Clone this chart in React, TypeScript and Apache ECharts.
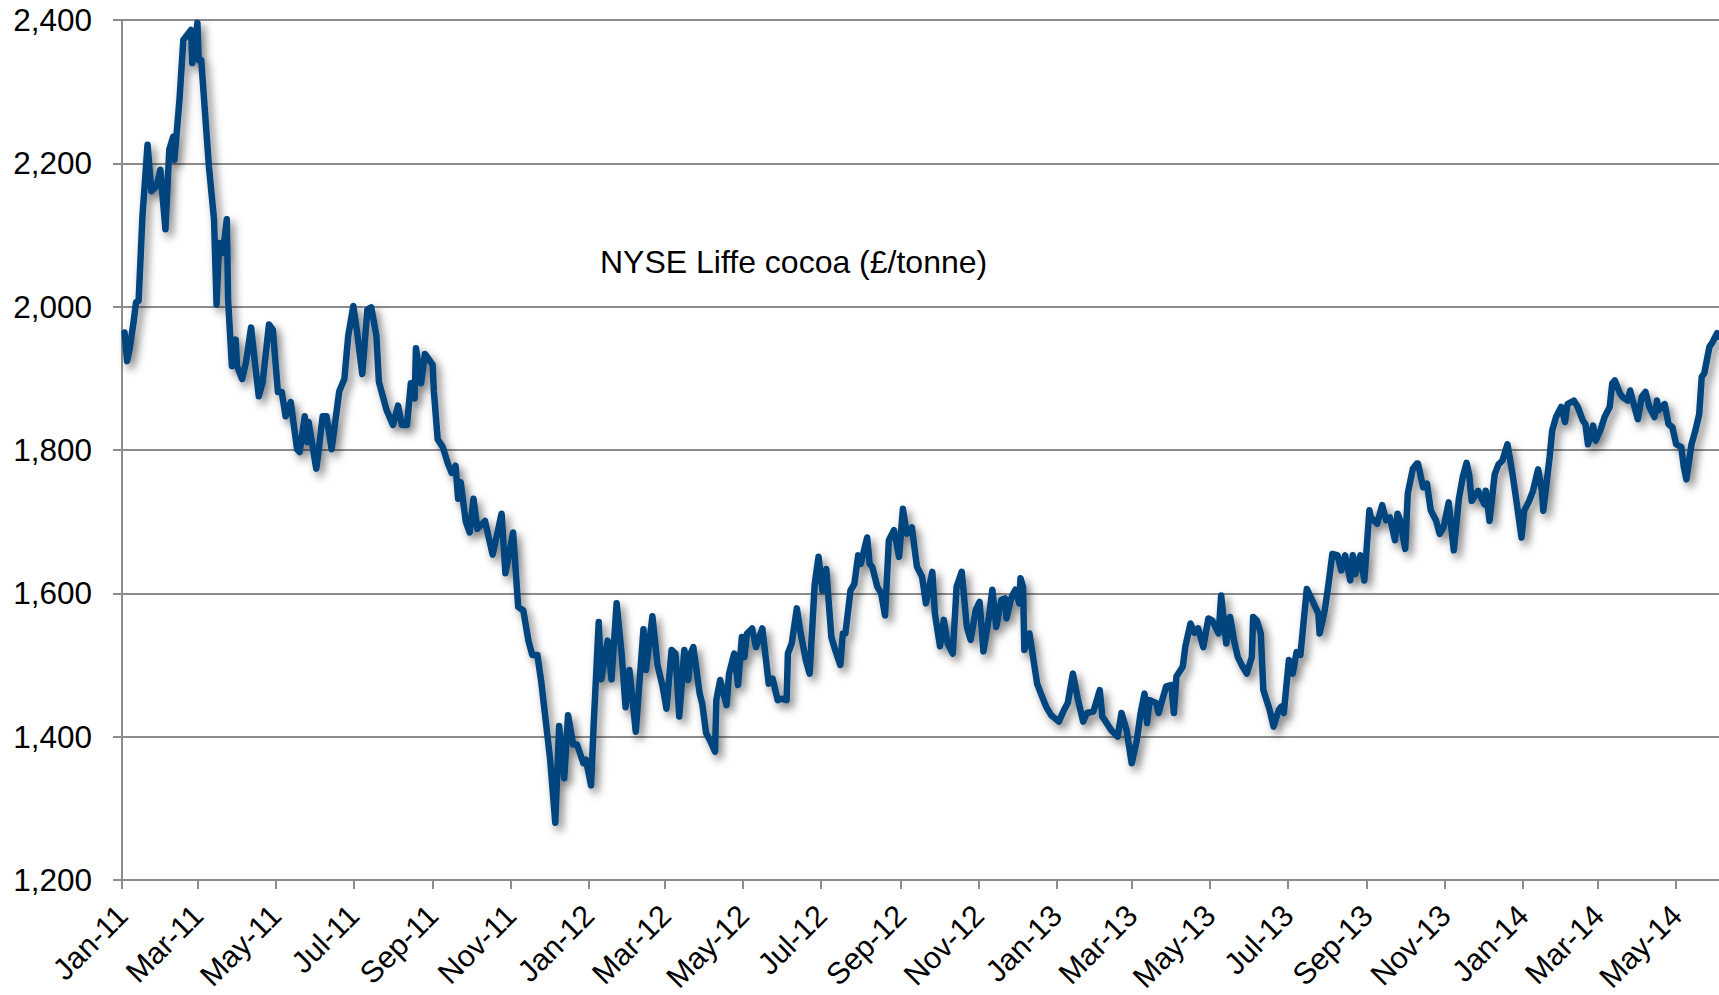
import React, { useEffect, useRef } from "react";
import * as echarts from "echarts";

// NYSE Liffe cocoa (£/tonne)
const dates2011 = [
  "2011-01-03","2011-01-05","2011-01-07","2011-01-10","2011-01-12","2011-01-14","2011-01-17","2011-01-21",
  "2011-01-24","2011-01-28","2011-01-31","2011-02-02","2011-02-04","2011-02-07","2011-02-10","2011-02-11",
  "2011-02-15","2011-02-18","2011-02-24","2011-02-25","2011-03-01","2011-03-02","2011-03-04","2011-03-10",
  "2011-03-14","2011-03-16","2011-03-18","2011-03-21","2011-03-24","2011-03-25","2011-03-28","2011-03-31",
  "2011-04-01","2011-04-05","2011-04-08","2011-04-12","2011-04-15","2011-04-18","2011-04-21","2011-04-26",
  "2011-04-29","2011-05-03","2011-05-06","2011-05-09","2011-05-13","2011-05-18","2011-05-20","2011-05-24",
  "2011-05-26","2011-05-27","2011-06-02","2011-06-03","2011-06-07","2011-06-10","2011-06-14","2011-06-20",
  "2011-06-24","2011-06-27","2011-07-01","2011-07-04","2011-07-08","2011-07-12","2011-07-15","2011-07-19",
  "2011-07-21","2011-07-27","2011-08-01","2011-08-05","2011-08-08","2011-08-12","2011-08-15","2011-08-18",
  "2011-08-19","2011-08-23","2011-08-26","2011-09-01","2011-09-02","2011-09-05","2011-09-09","2011-09-13",
  "2011-09-16","2011-09-19","2011-09-21","2011-09-23","2011-09-27","2011-09-30","2011-10-03","2011-10-06",
  "2011-10-12","2011-10-18","2011-10-25","2011-10-28","2011-11-03","2011-11-07","2011-11-11","2011-11-15",
  "2011-11-18","2011-11-22","2011-11-25","2011-11-29","2011-12-02","2011-12-06","2011-12-09","2011-12-13",
  "2011-12-16","2011-12-20","2011-12-23","2011-12-28","2011-12-30",
];
const prices2011 = [
  1964,1924,1941,1978,2006,2008,2126,2226,
  2161,2168,2191,2149,2108,2219,2237,2205,
  2289,2372,2386,2340,2396,2344,2344,2196,
  2122,2003,2089,2075,2122,2010,1917,1954,
  1917,1899,1922,1971,1922,1875,1894,1975,
  1968,1881,1881,1847,1867,1801,1797,1847,
  1811,1839,1774,1787,1847,1847,1801,1882,
  1899,1959,2001,1964,1906,1996,1999,1960,
  1895,1856,1835,1862,1835,1835,1893,1872,
  1942,1893,1934,1919,1882,1815,1804,1781,
  1768,1778,1732,1755,1700,1685,1732,1690,
  1701,1654,1711,1628,1685,1581,1576,1534,
  1514,1514,1477,1415,1368,1280,1415,1342,
  1430,1389,1389,1363,1368,
];

const dates2012 = [
  "2012-01-03","2012-01-05","2012-01-09","2012-01-11","2012-01-16","2012-01-19","2012-01-23","2012-01-27",
  "2012-01-30","2012-02-02","2012-02-07","2012-02-13","2012-02-15","2012-02-20","2012-02-24","2012-02-28",
  "2012-03-02","2012-03-06","2012-03-09","2012-03-12","2012-03-16","2012-03-19","2012-03-21","2012-03-23",
  "2012-03-28","2012-03-30","2012-04-02","2012-04-05","2012-04-09","2012-04-10","2012-04-13","2012-04-18",
  "2012-04-20","2012-04-24","2012-04-27","2012-04-30","2012-05-02","2012-05-04","2012-05-08","2012-05-11",
  "2012-05-16","2012-05-21","2012-05-24","2012-05-28","2012-05-31","2012-06-04","2012-06-05","2012-06-08",
  "2012-06-12","2012-06-15","2012-06-19","2012-06-22","2012-06-26","2012-06-29","2012-07-02","2012-07-05",
  "2012-07-09","2012-07-12","2012-07-16","2012-07-18","2012-07-20","2012-07-24","2012-07-27","2012-07-30",
  "2012-08-01","2012-08-06","2012-08-08","2012-08-10","2012-08-14","2012-08-17","2012-08-20","2012-08-23",
  "2012-08-27","2012-08-31","2012-09-03","2012-09-06","2012-09-10","2012-09-14","2012-09-18","2012-09-21",
  "2012-09-26","2012-09-28","2012-10-02","2012-10-05","2012-10-08","2012-10-12","2012-10-15","2012-10-19",
  "2012-10-23","2012-10-26","2012-10-30","2012-11-02","2012-11-05","2012-11-09","2012-11-12","2012-11-15",
  "2012-11-19","2012-11-22","2012-11-23","2012-11-27","2012-11-30","2012-12-03","2012-12-04","2012-12-06",
  "2012-12-07","2012-12-11","2012-12-13","2012-12-17","2012-12-20","2012-12-24","2012-12-28",
];
const prices2012 = [
  1332,1415,1560,1480,1534,1480,1586,1514,
  1441,1493,1407,1550,1493,1568,1500,1470,
  1439,1521,1516,1428,1521,1479,1516,1525,
  1460,1446,1405,1395,1379,1451,1479,1444,
  1488,1516,1472,1539,1511,1544,1551,1525,
  1551,1474,1481,1451,1453,1451,1516,1530,
  1579,1544,1507,1488,1613,1651,1604,1634,
  1539,1521,1500,1544,1544,1604,1613,1653,
  1641,1678,1641,1637,1609,1600,1569,1674,
  1688,1651,1718,1683,1692,1637,1623,1586,
  1630,1572,1526,1563,1530,1516,1609,1630,
  1553,1535,1577,1588,1519,1563,1605,1553,
  1591,1593,1565,1595,1605,1586,1621,1609,
  1521,1544,1521,1474,1460,1442,1430,
];

const dates2013 = [
  "2013-01-03","2013-01-07","2013-01-10","2013-01-14","2013-01-18","2013-01-22","2013-01-25","2013-01-30",
  "2013-02-04","2013-02-06","2013-02-08","2013-02-13","2013-02-18","2013-02-21","2013-02-25","2013-02-27",
  "2013-03-01","2013-03-05","2013-03-08","2013-03-11","2013-03-13","2013-03-15","2013-03-20","2013-03-22",
  "2013-03-28","2013-04-01","2013-04-03","2013-04-05","2013-04-10","2013-04-12","2013-04-16","2013-04-19",
  "2013-04-22","2013-04-26","2013-04-30","2013-05-03","2013-05-08","2013-05-10","2013-05-14","2013-05-17",
  "2013-05-20","2013-05-23","2013-05-27","2013-05-30","2013-06-03","2013-06-04","2013-06-07","2013-06-10",
  "2013-06-12","2013-06-17","2013-06-20","2013-06-24","2013-06-26","2013-06-28","2013-07-02","2013-07-05",
  "2013-07-08","2013-07-11","2013-07-16","2013-07-19","2013-07-25","2013-07-26","2013-07-30","2013-08-02",
  "2013-08-05","2013-08-09","2013-08-12","2013-08-15","2013-08-19","2013-08-21","2013-08-23","2013-08-27",
  "2013-08-30","2013-09-03","2013-09-04","2013-09-09","2013-09-13","2013-09-16","2013-09-19","2013-09-23",
  "2013-09-25","2013-09-27","2013-10-01","2013-10-03","2013-10-07","2013-10-10","2013-10-11","2013-10-15",
  "2013-10-18","2013-10-21","2013-10-25","2013-10-28","2013-10-31","2013-11-04","2013-11-06","2013-11-08",
  "2013-11-12","2013-11-15","2013-11-18","2013-11-20","2013-11-22","2013-11-27","2013-12-02","2013-12-03",
  "2013-12-06","2013-12-10","2013-12-13","2013-12-16","2013-12-20","2013-12-24","2013-12-27","2013-12-31",
];
const prices2013 = [
  1421,1437,1447,1488,1451,1421,1433,1435,
  1465,1428,1423,1409,1400,1433,1409,1386,
  1363,1395,1433,1460,1419,1451,1447,1433,
  1470,1472,1433,1484,1498,1526,1558,1545,
  1551,1525,1565,1562,1544,1597,1530,1567,
  1535,1511,1497,1488,1511,1567,1562,1544,
  1465,1437,1414,1437,1442,1433,1507,1488,
  1518,1514,1606,1595,1572,1544,1576,1613,
  1655,1653,1632,1653,1618,1653,1627,1653,
  1618,1716,1706,1697,1723,1702,1706,1674,
  1711,1702,1662,1739,1774,1781,1781,1748,
  1753,1716,1702,1683,1692,1727,1692,1660,
  1732,1762,1782,1766,1729,1743,1724,1743,
  1701,1766,1780,1785,1808,1766,1729,1678,
];

const dates2014 = [
  "2014-01-02","2014-01-06","2014-01-09","2014-01-13","2014-01-16","2014-01-17","2014-01-22","2014-01-24",
  "2014-01-27","2014-01-31","2014-02-03","2014-02-05","2014-02-10","2014-02-13","2014-02-17","2014-02-19",
  "2014-02-21","2014-02-25","2014-02-27","2014-03-03","2014-03-06","2014-03-10","2014-03-12","2014-03-14",
  "2014-03-18","2014-03-20","2014-03-24","2014-03-26","2014-03-28","2014-04-01","2014-04-04","2014-04-07",
  "2014-04-10","2014-04-14","2014-04-16","2014-04-17","2014-04-22","2014-04-25","2014-04-28","2014-05-01",
  "2014-05-05","2014-05-07","2014-05-09","2014-05-13","2014-05-16","2014-05-19","2014-05-21","2014-05-23",
  "2014-05-27","2014-05-29","2014-06-02","2014-06-03",
];
const prices2014 = [
  1715,1729,1743,1773,1743,1715,1790,1827,
  1846,1860,1839,1864,1869,1860,1841,1836,
  1808,1834,1813,1829,1846,1860,1893,1897,
  1879,1874,1869,1883,1869,1843,1874,1881,
  1860,1846,1869,1855,1864,1836,1832,1808,
  1804,1776,1759,1808,1827,1850,1902,1907,
  1944,1949,1963,1958,
];

// x-axis tick labels (first day of every other month)
const tickDates = [
  "2011-01-01","2011-03-01","2011-05-01","2011-07-01","2011-09-01","2011-11-01",
  "2012-01-01","2012-03-01","2012-05-01","2012-07-01","2012-09-01","2012-11-01",
  "2013-01-01","2013-03-01","2013-05-01","2013-07-01","2013-09-01","2013-11-01",
  "2014-01-01","2014-03-01","2014-05-01",
];
const monthNames = ["Jan","Feb","Mar","Apr","May","Jun","Jul","Aug","Sep","Oct","Nov","Dec"];

const yMin = 1200;
const yMax = 2400;
const yStep = 200;

const chartTitle = "NYSE Liffe cocoa (£/tonne)";

function toTs(s: string): number {
  const [y, m, d] = s.split("-").map(Number);
  return new Date(y, m - 1, d).getTime();
}

export default function App() {
  const ref = useRef<HTMLDivElement>(null);

  useEffect(() => {
    if (!ref.current) return;
    const chart = echarts.init(ref.current, undefined, { renderer: "svg" });
    const allDates = [...dates2011, ...dates2012, ...dates2013, ...dates2014];
    const allPrices = [...prices2011, ...prices2012, ...prices2013, ...prices2014];
    const data = allDates.map((d, i) => [toTs(d), allPrices[i]]);
    const ticks = tickDates.map(toTs);
    const font = "Arial, 'Liberation Sans', Helvetica, sans-serif";

    chart.setOption({
      animation: false,
      backgroundColor: "#ffffff",
      title: {
        text: chartTitle,
        left: 600,
        top: 246,
        padding: 0,
        textStyle: { fontFamily: font, fontSize: 32, fontWeight: "normal", color: "#000000" },
      },
      grid: { left: 122, right: 0, top: 20, bottom: 115, containLabel: false },
      xAxis: {
        type: "value",
        min: toTs("2011-01-01"),
        max: new Date(2014, 5, 3, 12).getTime(),
        axisLine: { show: true, onZero: false, lineStyle: { color: "#8c8c8c", width: 2 } },
        axisTick: {
          show: true,
          length: 9,
          lineStyle: { color: "#8c8c8c", width: 2 },
          customValues: ticks,
        },
        axisLabel: {
          customValues: ticks,
          rotate: 45,
          margin: 30,
          fontFamily: font,
          fontSize: 30.5,
          color: "#000000",
          showMinLabel: true,
          showMaxLabel: true,
          hideOverlap: false,
          formatter: (val: number) => {
            const d = new Date(val);
            return monthNames[d.getMonth()] + "-" + String(d.getFullYear()).slice(2);
          },
        },
        splitLine: { show: false },
      },
      yAxis: {
        type: "value",
        min: yMin,
        max: yMax,
        interval: yStep,
        axisLine: { show: true, lineStyle: { color: "#8c8c8c", width: 2 } },
        axisTick: { show: true, length: 9, lineStyle: { color: "#8c8c8c", width: 2 } },
        axisLabel: {
          margin: 30,
          fontFamily: font,
          fontSize: 31.5,
          color: "#000000",
          formatter: (v: number) => v.toLocaleString("en-US"),
        },
        splitLine: { show: true, lineStyle: { color: "#8c8c8c", width: 2 } },
      },
      series: [
        {
          type: "line",
          name: chartTitle,
          data,
          symbol: "none",
          clip: true,
          lineStyle: {
            color: "#03457e",
            width: 6.5,
            join: "round",
            cap: "round",
            shadowColor: "rgba(0,0,0,0.5)",
            shadowBlur: 8,
            shadowOffsetX: 4,
            shadowOffsetY: 5,
          },
        },
      ],
    });

    return () => {
      chart.dispose();
    };
  }, []);

  return (
    <div
      ref={ref}
      style={{ position: "fixed", left: 0, top: 0, width: 1719, height: 995, background: "#fff" }}
    />
  );
}
